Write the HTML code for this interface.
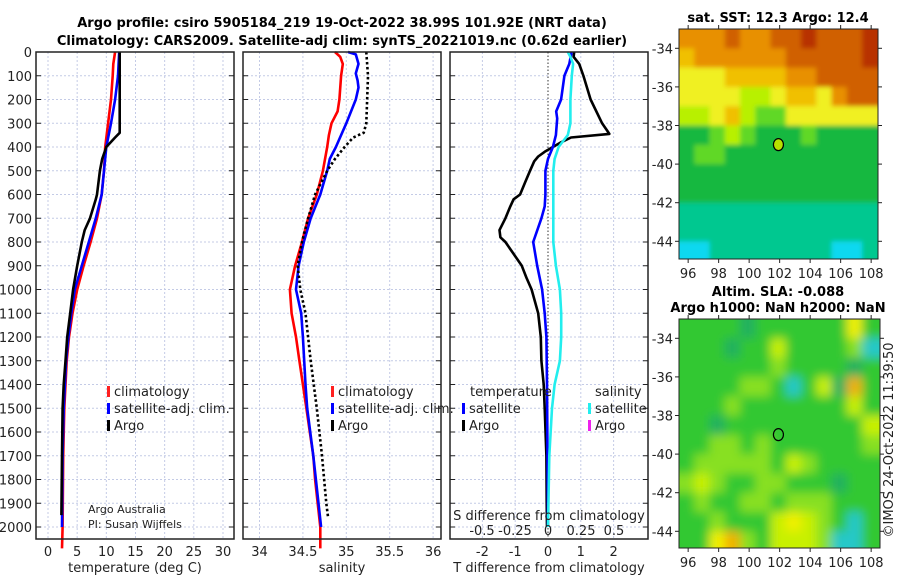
<!DOCTYPE html>
<html><head><meta charset="utf-8"><style>
html,body{margin:0;padding:0;background:#fff;}
svg{display:block;font-family:"DejaVu Sans","Liberation Sans",sans-serif;}
</style></head><body>
<svg id="chart" width="900" height="580" viewBox="0 0 900 580" xmlns="http://www.w3.org/2000/svg">
<defs>
<filter id="blurA" x="-5%" y="-5%" width="110%" height="110%"><feGaussianBlur stdDeviation="2.5"/></filter>
<filter id="blurB" x="-5%" y="-5%" width="110%" height="110%"><feGaussianBlur stdDeviation="5"/></filter>
<clipPath id="clipA"><rect x="679" y="29" width="199" height="230"/></clipPath>
<clipPath id="clipB"><rect x="679" y="319" width="201" height="229"/></clipPath>
</defs>
<rect width="900" height="580" fill="#fff"/>
<text x="342" y="27" text-anchor="middle" font-weight="bold" font-size="13">Argo profile: csiro 5905184_219 19-Oct-2022 38.99S 101.92E (NRT data)</text>
<text x="342" y="45" text-anchor="middle" font-weight="bold" font-size="13">Climatology: CARS2009. Satellite-adj clim: synTS_20221019.nc (0.62d earlier)</text>
<g id="g"></g>
</svg>
<script>
// ---------- data ----------
const depthTicks = [0,100,200,300,400,500,600,700,800,900,1000,1100,1200,1300,1400,1500,1600,1700,1800,1900,2000];
const tempTicks = [0,5,10,15,20,25,30];
const salTicks = [34,34.5,35,35.5,36];
const salTickLabels = ["34","34.5","35","35.5","36"];
const tdiffTicks = [-2,-1,0,1,2];
const sdiffTicks = [-0.5,-0.25,0,0.25,0.5];
const sdiffTickLabels = ["-0.5","-0.25","0","0.25","0.5"];

const tClimDepth = [0,50,100,200,300,400,500,600,700,800,900,1000,1100,1200,1300,1500,1700,2000,2090];
const tClimVal   = [11.5,11.2,11.1,10.8,10.3,9.8,9.6,9.2,8.4,7.3,6.1,5.0,4.2,3.6,3.2,2.8,2.6,2.5,2.4];
const tSatDepth  = [0,100,200,300,400,500,600,700,800,900,1000,1100,1200,1300,1500,1700,2000];
const tSatVal    = [12.2,12.0,11.5,10.8,10.0,9.6,9.2,8.2,7.0,5.8,4.6,4.0,3.5,3.1,2.7,2.5,2.4];
const tArgoDepth = [0,100,200,340,360,400,450,500,600,620,700,750,800,900,1000,1100,1200,1300,1400,1500,1700,1950];
const tArgoVal   = [12.3,12.3,12.3,12.3,11.5,10.0,9.3,8.9,8.4,8.2,7.2,6.3,5.8,5.0,4.3,3.8,3.3,3.0,2.7,2.5,2.4,2.3];

const sClimDepth = [0,20,50,100,200,250,300,350,400,500,600,700,800,900,1000,1100,1200,1300,1400,1500,1600,1700,1800,1900,2000,2090];
const sClimVal   = [34.87,34.93,34.96,34.94,34.92,34.9,34.83,34.8,34.78,34.73,34.66,34.56,34.49,34.41,34.35,34.37,34.42,34.46,34.5,34.54,34.58,34.62,34.64,34.67,34.7,34.7];
const sSatDepth  = [0,10,50,90,120,150,200,300,350,400,450,500,600,700,800,900,1000,1100,1200,1400,1500,1700,2000];
const sSatVal    = [35.02,35.11,35.14,35.11,35.13,35.14,35.11,35.0,34.94,34.88,34.81,34.78,34.7,34.59,34.51,34.45,34.42,34.48,34.5,34.53,34.55,34.62,34.71];
const sArgoDepth = [0,100,300,340,360,400,450,500,600,700,800,900,1000,1100,1300,1500,1700,1900,1960];
const sArgoVal   = [35.23,35.25,35.23,35.2,35.08,34.98,34.87,34.78,34.64,34.56,34.49,34.44,34.47,34.53,34.59,34.66,34.72,34.77,34.79];

const dTArgoDepth = [0,20,50,100,200,300,330,345,360,380,400,420,440,460,500,550,600,620,650,700,750,780,800,850,900,950,1000,1050,1100,1200,1300,1400,1500,1700,1900,2000];
const dTArgoVal   = [0.8,0.78,0.95,1.08,1.3,1.65,1.8,1.87,0.7,0.4,0.15,-0.1,-0.3,-0.42,-0.55,-0.7,-0.85,-1.05,-1.15,-1.3,-1.48,-1.45,-1.3,-1.05,-0.8,-0.66,-0.5,-0.4,-0.3,-0.22,-0.2,-0.13,-0.1,-0.05,-0.04,-0.03];
const dTSatDepth  = [0,50,100,200,250,280,350,400,450,500,600,650,700,800,900,1000,1100,1200,1400,2000];
const dTSatVal    = [0.72,0.65,0.5,0.4,0.25,0.28,0.24,0.15,0,-0.08,-0.08,-0.1,-0.2,-0.45,-0.33,-0.18,-0.1,-0.05,-0.03,0];
const dSSatDepth  = [0,20,50,100,200,300,350,400,450,500,700,800,900,1000,1100,1200,1300,1400,1500,1700,2000];
const dSSatVal    = [0.15,0.17,0.19,0.18,0.17,0.17,0.15,0.08,0.05,0.04,0.04,0.04,0.06,0.09,0.1,0.1,0.09,0.05,0.03,0.01,0];

const latTicks = [-34,-36,-38,-40,-42,-44];
const lonTicks = [96,98,100,102,104,106,108];
const gridLons = [95.4,96.4,97.4,98.4,99.4,100.4,101.4,102.4,103.4,104.4,105.4,106.4,107.4];
const gridLats = [-33,-34,-35,-36,-37,-38,-39,-40,-41,-42,-43,-44];
const sstGrid = [
[8,8,8,9,8,8,9,9,10,9,9,9,10],
[7,8,8,8,8,8,8,9,9,9,9,9,10],
[6,6,6,7,7,7,7,8,8,9,9,9,9],
[6,6,6,6,5,5,6,7,7,6,8,9,9],
[5,5,6,7,5,4,4,6,6,6,6,6,6],
[3,3,4,5,4,3,3,3,4,3,3,3,3],
[3,4,4,3,3,3,3,3,3,3,3,3,3],
[3,3,3,3,3,3,3,3,3,3,3,3,3],
[3,3,3,3,3,3,3,3,3,3,3,3,3],
[2,2,2,2,2,2,2,2,2,2,2,2,2],
[2,2,2,2,2,2,2,2,2,2,2,2,2],
[1,1,2,2,2,2,2,2,2,2,1,1,2]];
const slaGrid = [
[3,3,3,3,2,3,3,3,3,3,3,6,3],
[3,3,3,2,3,3,5,3,3,3,3,4,1],
[3,3,3,3,3,3,4,3,3,3,3,2,3],
[3,3,3,3,4,4,3,1,3,5,2,7,3],
[3,3,3,4,3,3,3,3,3,3,3,5,3],
[3,3,2,3,3,3,3,3,3,3,3,3,5],
[3,3,4,4,3,4,3,3,3,3,3,3,4],
[3,4,4,4,4,4,3,5,4,3,3,3,3],
[4,5,4,3,3,4,4,3,3,3,2,3,3],
[3,4,3,3,4,4,3,4,4,4,3,3,3],
[3,3,4,3,3,3,5,6,5,4,3,1,3],
[3,3,6,7,4,3,5,5,5,4,1,1,3]];
const floatLon = 101.92, floatLat = -38.99;

// ---------- helpers ----------
const NS="http://www.w3.org/2000/svg";
const G=document.getElementById('g');
function mk(tag,attrs,parent){const e=document.createElementNS(NS,tag);for(const k in attrs)e.setAttribute(k,attrs[k]);(parent||G).appendChild(e);return e;}
function txt(x,y,s,size,anchor,parent,extra){const e=mk('text',Object.assign({x:x,y:y,'font-size':size,'text-anchor':anchor||'middle',fill:'#222'},extra||{}),parent);e.textContent=s;return e;}
const TOP=52, BOT=539;
const yD = d => 52 + d*0.2375;
const P1={l:36,r:234}, P2={l:243,r:441}, P3={l:450,r:648};
const xT = v => 48 + v*5.833;
const xS = v => 259.5 + (v-34)*86.8;
const xDT = v => 548 + v*32.8;
const xDS = v => 548 + v*132;

function panel(P,name,vgrid){
  const g=mk('g',{});
  
  
  depthTicks.forEach(d=>{const l=mk('line',{x1:P.l,x2:P.r,y1:yD(d),y2:yD(d),stroke:'#c4cbe6','stroke-width':1,'stroke-dasharray':'2,2'},g);
    
    mk('line',{x1:P.l,x2:P.l+5,y1:yD(d),y2:yD(d),stroke:'#222'},g);mk('line',{x1:P.r-5,x2:P.r,y1:yD(d),y2:yD(d),stroke:'#222'},g);});
  vgrid.forEach(x=>{const l=mk('line',{x1:x,x2:x,y1:TOP,y2:BOT,stroke:'#c4cbe6','stroke-width':1,'stroke-dasharray':'2,2'},g);
    });
  return g;
}
function frame(P,g){mk('rect',{x:P.l,y:TOP,width:P.r-P.l,height:BOT-TOP,fill:'none',stroke:'#222','stroke-width':1.5},g);}
function line(dep,val,xf,color,name,dash,parent){
  const pts=dep.map((d,i)=>xf(val[i]).toFixed(1)+','+yD(d).toFixed(1)).join(' ');
  const p=mk('polyline',{points:pts,fill:'none',stroke:color,'stroke-width':2.6,'stroke-linejoin':'round'},parent);
  if(dash)p.setAttribute('stroke-dasharray',dash);
  
  
  return p;
}
function legendEntry(x,y,color,label,parent){
  const b=mk('rect',{x:x,y:y-10,width:3,height:11,fill:color},parent);
  
  const t=txt(x+7,y,label,13,'start',parent);
  
}

// ---------- panel 1: temperature ----------
const g1=panel(P1,'temperature-panel',tempTicks.map(xT));
depthTicks.forEach(d=>{const t=txt(32,yD(d)+5,String(d),13,'end',g1);});
tempTicks.forEach(v=>{const t=txt(xT(v),556,String(v),13,'middle',g1);});
let t1=txt(135,572,'temperature (deg C)',13,'middle',g1);
line(tClimDepth,tClimVal,xT,'#ff0000','temperature-climatology-line',null,g1);
line(tSatDepth,tSatVal,xT,'#0000ff','temperature-satellite-line',null,g1);
line(tArgoDepth,tArgoVal,xT,'#000000','temperature-argo-line',null,g1);
legendEntry(107,396,'#ff2020','climatology',g1);
legendEntry(107,413,'#0000ff','satellite-adj. clim.',g1);
legendEntry(107,430,'#000','Argo',g1);
let c1=txt(88,513,'Argo Australia',11,'start',g1);
let c2=txt(88,528,'PI: Susan Wijffels',11,'start',g1);
frame(P1,g1);

// ---------- panel 2: salinity ----------
const g2=panel(P2,'salinity-panel',salTicks.map(xS));
salTicks.forEach((v,i)=>{const t=txt(xS(v),556,salTickLabels[i],13,'middle',g2);});
let t2=txt(342,572,'salinity',13,'middle',g2);
line(sClimDepth,sClimVal,xS,'#ff0000','salinity-climatology-line',null,g2);
line(sSatDepth,sSatVal,xS,'#0000ff','salinity-satellite-line',null,g2);
line(sArgoDepth,sArgoVal,xS,'#000000','salinity-argo-line','2.5,2.5',g2);
legendEntry(331,396,'#ff2020','climatology',g2);
legendEntry(331,413,'#0000ff','satellite-adj. clim.',g2);
legendEntry(331,430,'#000','Argo',g2);
frame(P2,g2);

// ---------- panel 3: differences ----------
const g3=panel(P3,'difference-panel',tdiffTicks.filter(v=>v!==0).map(xDT));
let z=mk('line',{x1:xDT(0),x2:xDT(0),y1:TOP,y2:BOT,stroke:'#333','stroke-width':1,'stroke-dasharray':'1.5,2'},g3);

tdiffTicks.forEach(v=>{const t=txt(xDT(v),556,String(v),13,'middle',g3);});
let t3=txt(549,572,'T difference from climatology',13,'middle',g3);
line(dTArgoDepth,dTArgoVal,xDT,'#000000','tdiff-argo-line',null,g3);
line(dTSatDepth,dTSatVal,xDT,'#0000ff','tdiff-satellite-line',null,g3);
line(dSSatDepth,dSSatVal,xDS,'#22eeee','sdiff-satellite-line',null,g3);
let s3=txt(549,520,'S difference from climatology',13,'middle',g3);
sdiffTicks.forEach((v,i)=>{const t=txt(xDS(v),535,sdiffTickLabels[i],13,'middle',g3);});
let lt=txt(470,396,'temperature',13,'start',g3);
let ls=txt(595,396,'salinity',13,'start',g3);
legendEntry(462,413,'#0000ff','satellite',g3);
legendEntry(462,430,'#000','Argo',g3);
legendEntry(588,413,'#22eeee','satellite',g3);
legendEntry(588,430,'#ee22ee','Argo',g3);
frame(P3,g3);

// ---------- maps ----------
const palette=['#0040ff','#10d8f0','#00c890','#18b840','#60d828','#b8f000','#f0f020','#f0c000','#e89000','#d06000','#b83000'];
const slaPalette=['#0040ff','#28c8c8','#20b060','#30c830','#88e020','#c8f000','#f0f000','#f0b000'];
function map(L,name,grid,pal,filt,clip){
  const g=mk('g',{});
  
  
  const xL=v=>L.x+(v-95.4)*L.sx, yL=v=>L.y+(-33.0-v)*L.sy;
  const cg=mk('g',{'clip-path':'url(#'+clip+')'},g);
  const cells=mk('g',{filter:'url(#'+filt+')'},cg);
  mk('rect',{x:L.x-10,y:L.y-10,width:L.w+20,height:L.h+20,fill:pal[3]},cells);
  grid.forEach((row,ri)=>row.forEach((v,ci)=>{
    let x=xL(gridLons[ci]), y=yL(gridLats[ri]), w=L.sx+0.6, h=L.sy+0.6;
    if(ci===0){x-=10;w+=10;} if(ci===row.length-1){w+=10;}
    if(ri===0){y-=10;h+=10;} if(ri===grid.length-1){h+=10;}
    const r=mk('rect',{x:x.toFixed(1),y:y.toFixed(1),width:w.toFixed(1),height:h.toFixed(1),fill:pal[v]},cells);
    
    
  }));
  mk('rect',{x:L.x,y:L.y,width:L.w,height:L.h,fill:'none',stroke:'#222','stroke-width':1},g);
  latTicks.forEach(v=>{const y=yL(v);mk('line',{x1:L.x-4,x2:L.x,y1:y,y2:y,stroke:'#222'},g);mk('line',{x1:L.x+L.w,x2:L.x+L.w+4,y1:y,y2:y,stroke:'#222'},g);
    const t=txt(L.x-6,y+5,String(v),13,'end',g);});
  lonTicks.forEach(v=>{const x=xL(v);mk('line',{x1:x,x2:x,y1:L.y+L.h,y2:L.y+L.h+4,stroke:'#222'},g);mk('line',{x1:x,x2:x,y1:L.y-4,y2:L.y,stroke:'#222'},g);
    const t=txt(x,L.y+L.h+19,String(v),13,'middle',g);});
  const c=mk('ellipse',{cx:xL(floatLon),cy:yL(floatLat),rx:5,ry:6,fill:L.dot,stroke:'#000','stroke-width':1.2},g);
  
  return g;
}
const gm1=map({x:679,y:29,w:199,h:230,sx:15.25,sy:19.3,dot:'#b8e000'},'sst-map',sstGrid,palette,'blurA','clipA');
let mt1=txt(778,22,'sat. SST: 12.3 Argo: 12.4',13,'middle',gm1,{'font-weight':'bold',fill:'#000'});
const gm2=map({x:679,y:319,w:201,h:229,sx:15.25,sy:19.3,dot:'none'},'sla-map',slaGrid,slaPalette,'blurB','clipB');
let mt2=txt(778,296,'Altim. SLA: -0.088',13,'middle',gm2,{'font-weight':'bold',fill:'#000'});
let mt3=txt(778,312,'Argo h1000: NaN h2000: NaN',13,'middle',gm2,{'font-weight':'bold',fill:'#000'});
let cr=txt(0,0,'©IMOS 24-Oct-2022 11:39:50',13,'middle',G,{transform:'translate(893,440) rotate(-90)'});

</script>
</body></html>
